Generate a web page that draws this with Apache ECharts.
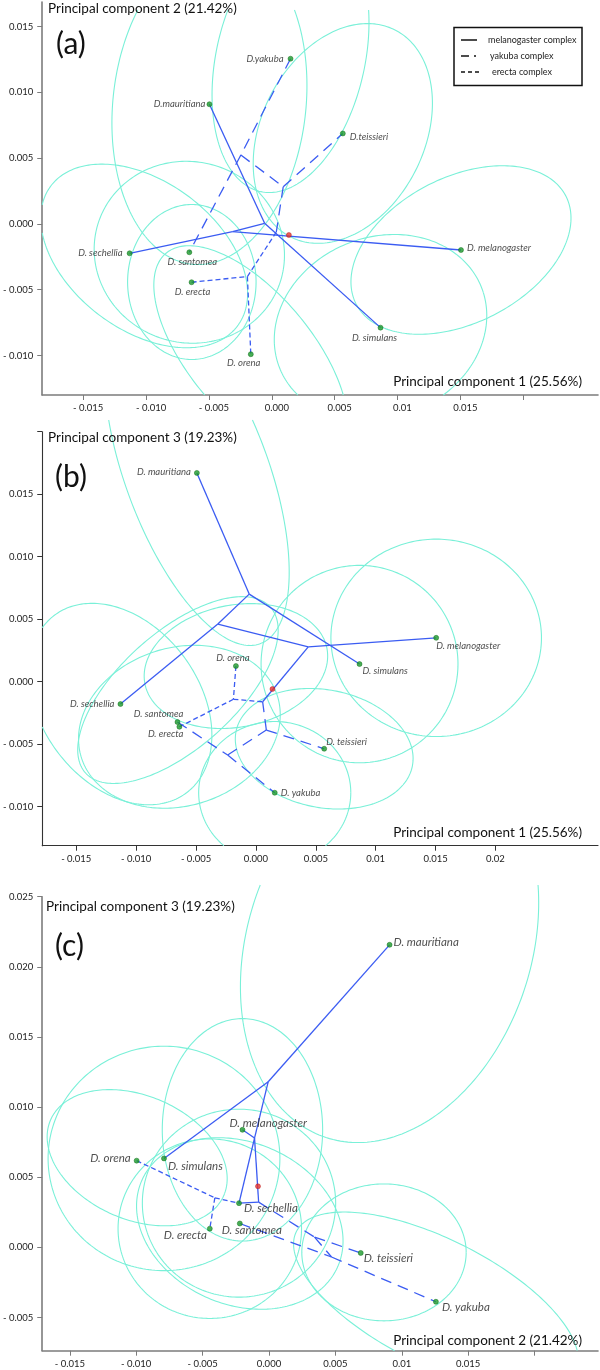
<!DOCTYPE html>
<html><head><meta charset="utf-8">
<script src="https://cdn.jsdelivr.net/npm/echarts@6/dist/echarts.min.js"></script>
<style>html,body{margin:0;padding:0;background:#fff;}#chart{width:600px;height:1370px;}</style>
</head><body><div id="chart"></div>
<script>
// ---------------- DATA ----------------
const speciesNames = ['D. melanogaster','D. simulans','D.mauritiana','D. sechellia','D.yakuba','D.teissieri','D. santomea','D. erecta','D. orena'];
const speciesNamesBC = ['D. melanogaster','D. simulans','D. mauritiana','D. sechellia','D. yakuba','D. teissieri','D. santomea','D. erecta','D. orena'];
const keys = ['mel','sim','mau','sec','yak','tei','san','ere','ore'];

// panel (a): PC1 vs PC2
const pc1_A = [0.01505, 0.00865, -0.00496, -0.01131, 0.00149, 0.00565, -0.00656, -0.00638, -0.00167];
const pc2_A = [-0.00198, -0.00788, 0.0091, -0.00223, 0.01256, 0.00688, -0.00215, -0.00443, -0.0099];
// panel (b): PC1 vs PC3
const pc1_B = [0.01505, 0.00865, -0.00493, -0.01131, 0.00157, 0.0057, -0.00655, -0.00639, -0.00167];
const pc3_B = [0.0035, 0.0014, 0.0167, -0.0018, -0.0089, -0.00538, -0.00324, -0.00362, 0.00124];
// panel (c): PC2 vs PC3
const pc2_C = [-0.002, -0.00791, 0.00908, -0.00226, 0.01257, 0.00691, -0.0022, -0.00446, -0.00997];
const pc3_C = [0.00838, 0.00634, 0.02157, 0.00315, -0.00388, -0.0004, 0.0017, 0.00133, 0.00618];

// red reference point
const rootA = [0.00136, -0.00084];
const rootB = [0.00138, -0.0006];
const rootC = [-0.00083, 0.00435];

// internal tree nodes
const nodesA = {A:[-0.00057,0.00005], P:[-0.00312,-0.00059], Q:[-0.00246,0.00524], R:[0.00091,0.00283], Rt:[0.00036,-0.00061], S:[-0.00194,-0.004]};
const nodesB = {N1:[-0.00056,0.007], N2:[-0.00318,0.0046], N3:[0.00437,0.00278], Rt:[0.00056,-0.00162], S:[-0.00188,-0.00142], Q:[-0.00236,-0.00588], R:[0.00087,-0.00388]};
const nodesC = {N1:[-0.00006,0.01181], N2:[-0.00109,0.00779], N3:[-0.00078,0.00322], S:[-0.00408,0.00353], R:[0.00343,0.00073], Q:[0.00471,-0.00069]};

// tree edges per complex
const edgesA = {
  mel: [['mau','A'],['P','A'],['sec','P'],['A','sim'],['P','mel']],
  yak: [['yak','Q'],['Q','san'],['Q','R'],['R','tei'],['R','Rt']],
  ere: [['ere','S'],['S','ore'],['S','Rt']]
};
const edgesB = {
  mel: [['mau','N1'],['N1','N2'],['N2','sec'],['N1','sim'],['N2','N3'],['N3','mel'],['N3','Rt']],
  yak: [['san','Q'],['Q','yak'],['Q','R'],['R','tei'],['R','Rt']],
  ere: [['ore','S'],['S','Rt'],['S','ere']]
};
const edgesC = {
  mel: [['mau','N1'],['N1','sim'],['N1','N2'],['N2','mel'],['N2','sec'],['N2','N3'],['sec','N3']],
  yak: [['N3','R'],['R','tei'],['R','Q'],['san','Q'],['Q','yak']],
  ere: [['ore','S'],['S','ere'],['S','sec']]
};

// confidence ellipses: [centre x, centre y, semi-axis a, semi-axis b, angle deg]
const ellipsesA = [
  [0.01505,-0.00198,0.0093,0.00558,25],
  [0.00865,-0.00788,0.0086,0.0069,18],
  [0.00565,0.00688,0.0089,0.00643,60],
  [0.00149,0.01256,0.01038,0.00589,76],
  [-0.00496,0.0091,0.01224,0.00767,83],
  [-0.00167,-0.0099,0.01022,0.0048,-48],
  [-0.00636,-0.00441,0.00589,0.00511,90],
  [-0.00656,-0.00215,0.00759,0.00689,-10],
  [-0.01015,-0.00243,0.00914,0.00573,-34]
];
const ellipsesB = [
  [-0.00493,0.0167,0.01466,0.00594,-68.5],
  [0.01505,0.0035,0.00879,0.0079,0],
  [0.00865,0.0014,0.00822,0.0079,0],
  [0.0057,-0.00538,0.00749,0.00472,-10],
  [0.00157,-0.0089,0.00635,0.0057,0],
  [-0.01131,-0.0018,0.009,0.0065,-50],
  [-0.00651,-0.00068,0.01018,0.00472,40],
  [-0.00639,-0.00362,0.00855,0.00635,15],
  [-0.00167,0.00124,0.00773,0.00489,10]
];
const ellipsesC = [
  [0.00908,0.02157,0.01456,0.01063,68.6],
  [-0.00993,0.00639,0.00706,0.00444,-21],
  [-0.00791,0.00634,0.00873,0.008,0],
  [-0.002,0.00838,0.00793,0.00604,90],
  [-0.00226,0.00315,0.00728,0.0067,0],
  [-0.0022,0.0017,0.008,0.00582,-20],
  [-0.00446,0.00133,0.00691,0.0064,0],
  [0.00866,-0.00036,0.00619,0.00488,0],
  [0.01257,-0.00388,0.01164,0.00451,-25]
];

// axis ticks and labels
const xTicksA = [-0.015,-0.01,-0.005,0,0.005,0.01,0.015,0.02];
const xLabelsA = ['- 0.015','- 0.010','- 0.005','0.000','0.005','0.01','0.015'];
const yTicksA = [-0.01,-0.005,0,0.005,0.01,0.015];
const yLabelsA = ['- 0.010','- 0.005','0.000','0.005','0.010','0.015'];
const xTicksB = [-0.015,-0.01,-0.005,0,0.005,0.01,0.015,0.02];
const xLabelsB = ['- 0.015','- 0.010','- 0.005','0.000','0.005','0.01','0.015','0.02'];
const yTicksB = [-0.01,-0.005,0,0.005,0.01,0.015,0.02];
const yLabelsB = ['- 0.010','- 0.005','0.000','0.005','0.010','0.015'];
const xTicksC = [-0.015,-0.01,-0.005,0,0.005,0.01,0.015,0.02];
const xLabelsC = ['- 0.015','- 0.010','- 0.005','0.000','0.005','0.01','0.015'];
const yTicksC = [-0.005,0,0.005,0.01,0.015,0.02,0.025];
const yLabelsC = ['- 0.005','0.000','0.005','0.010','0.015','0.020','0.025'];

const axisTitles = {
  a: ['Principal component 2 (21.42%)','Principal component 1 (25.56%)'],
  b: ['Principal component 3 (19.23%)','Principal component 1 (25.56%)'],
  c: ['Principal component 3 (19.23%)','Principal component 2 (21.42%)']
};
const legendItems = ['melanogaster complex','yakuba complex','erecta complex'];

// ---------------- LAYOUT / STYLE ----------------
const FONT = 'Lato, "Open Sans", sans-serif';
const ELL_COLOR = '#7af0d8';
const LINE_COLOR = '#3b5cf2';
const DASH = {mel:'solid', yak:[11,7], ere:[5,3]};

// label placement per species: [align, verticalAlign, dx, dy]
const labelPlaceA = {
  mel:['left','middle',6,-2], sim:['center','top',-6,5], mau:['right','middle',-4,0],
  sec:['right','middle',-7,0], yak:['right','middle',-7,0], tei:['left','middle',7,3],
  san:['center','top',3,5], ere:['center','top',1,5], ore:['center','top',-7,4]
};
const labelPlaceB = {
  mel:['left','top',0,3], sim:['left','top',3,2], mau:['right','middle',-6,-1],
  sec:['right','middle',-6,0], yak:['left','middle',6,0], tei:['left','bottom',2,-2],
  san:['right','bottom',6,-3], ere:['right','top',4,2], ore:['center','bottom',-3,-3]
};
const labelPlaceC = {
  mel:['left','bottom',-13,-1], sim:['left','top',4,2], mau:['left','middle',4,-3],
  sec:['left','top',5,-1], yak:['left','top',6,0], tei:['left','top',3,-1],
  san:['center','top',12,1], ere:['right','top',-3,1], ore:['right','middle',-6,-2]
};

const panels = [
  {grid:{left:38.3, top:2, width:559.7, height:393}, x:[-0.01826,0.02595], y:[-0.013,0.01687],
   xs:pc1_A, ys:pc2_A, root:rootA, nodes:nodesA, edges:edgesA, ell:ellipsesA,
   xt:xTicksA, xl:xLabelsA, yt:yTicksA, yl:yLabelsA, names:speciesNames, place:labelPlaceA, fs:9.5, clipTop:-8,
   axisColor:'#7c7c7c', axisWidth:1.6, xPad:[0,0,0,10]},
  {grid:{left:38.3, top:431.7, width:559.7, height:414}, x:[-0.01784,0.02856], y:[-0.01314,0.02],
   xs:pc1_B, ys:pc3_B, root:rootB, nodes:nodesB, edges:edgesB, ell:ellipsesB,
   xt:xTicksB, xl:xLabelsB, yt:yTicksB, yl:yLabelsB, names:speciesNamesBC, place:labelPlaceB, fs:9.5, clipTop:11.7,
   axisColor:'#333', axisWidth:1.1, xPad:[0,0,0,0]},
  {grid:{left:37.1, top:896.7, width:560.9, height:454}, x:[-0.01708,0.02478], y:[-0.00737,0.025],
   xs:pc2_C, ys:pc3_C, root:rootC, nodes:nodesC, edges:edgesC, ell:ellipsesC,
   xt:xTicksC, xl:xLabelsC, yt:yTicksC, yl:yLabelsC, names:speciesNamesBC, place:labelPlaceC, fs:11.5, clipTop:11.7,
   axisColor:'#7c7c7c', axisWidth:1.6, xPad:[0,0,0,0]}
];

function labelFor(v, ticks, labels){
  for (let i=0;i<ticks.length;i++) if (Math.abs(v-ticks[i])<1e-9) return labels[i] || '';
  return '';
}

function clipSeg(a,b,r){
  let t0=0,t1=1; const dx=b[0]-a[0], dy=b[1]-a[1];
  const p=[-dx,dx,-dy,dy], q=[a[0]-r.x0, r.x1-a[0], a[1]-r.y0, r.y1-a[1]];
  for (let i=0;i<4;i++){
    if (p[i]===0){ if (q[i]<0) return null; }
    else { const t=q[i]/p[i];
      if (p[i]<0){ if (t>t1) return null; if (t>t0) t0=t; }
      else { if (t<t0) return null; if (t<t1) t1=t; } }
  }
  return {a:[a[0]+t0*dx,a[1]+t0*dy], b:[a[0]+t1*dx,a[1]+t1*dy], sc:t0>0, ec:t1<1};
}
function clipPolyline(pts, r){
  const runs=[]; let cur=null, prevEndClipped=true;
  for (let i=0;i<pts.length-1;i++){
    const s=clipSeg(pts[i],pts[i+1],r);
    if (!s){ cur=null; prevEndClipped=true; continue; }
    if (cur && !s.sc && !prevEndClipped) cur.push(s.b);
    else { cur=[s.a,s.b]; runs.push(cur); }
    prevEndClipped=s.ec;
  }
  return runs;
}

function ellipseRender(clipTop){
  return function(params, api){
    const cx=api.value(0), cy=api.value(1), a=api.value(2), b=api.value(3), ang=api.value(4)*Math.PI/180;
    const pts=[];
    const N=240;
    for (let i=0;i<=N;i++){
      const t=i/N*2*Math.PI;
      const dx=a*Math.cos(t)*Math.cos(ang)-b*Math.sin(t)*Math.sin(ang);
      const dy=a*Math.cos(t)*Math.sin(ang)+b*Math.sin(t)*Math.cos(ang);
      pts.push(api.coord([cx+dx, cy+dy]));
    }
    const cs=params.coordSys;
    const r={x0:cs.x, x1:cs.x+cs.width, y0:cs.y-clipTop, y1:cs.y+cs.height};
    const runs=clipPolyline(pts, r);
    return {type:'group', children: runs.map(run=>({type:'polyline', shape:{points:run}, style:{stroke:ELL_COLOR, fill:'none', lineWidth:1.1}}))};
  };
}

const option = {animation:false, backgroundColor:'#fff', grid:[], xAxis:[], yAxis:[], series:[], graphic:[]};

panels.forEach((P, i) => {
  option.grid.push(Object.assign({containLabel:false}, P.grid));
  option.xAxis.push({type:'value', gridIndex:i, min:P.x[0], max:P.x[1], splitLine:{show:false},
    axisLine:{show:true, onZero:false, lineStyle:{color:P.axisColor, width:P.axisWidth}},
    axisTick:{show:true, customValues:P.xt, length:5, lineStyle:{color:P.axisColor, width:1}},
    axisLabel:{show:true, customValues:P.xt.slice(0,P.xl.length), formatter:v=>labelFor(v,P.xt,P.xl), fontSize:9.5, color:'#222', fontFamily:FONT, margin:8, padding:P.xPad}});
  option.yAxis.push({type:'value', gridIndex:i, min:P.y[0], max:P.y[1], splitLine:{show:false},
    axisLine:{show:true, onZero:false, lineStyle:{color:P.axisColor, width:P.axisWidth}},
    axisTick:{show:true, customValues:P.yt, length:5, lineStyle:{color:P.axisColor, width:1}},
    axisLabel:{show:true, customValues:P.yt.slice(0,P.yl.length), formatter:v=>labelFor(v,P.yt,P.yl), fontSize:9.5, color:'#222', fontFamily:FONT, margin:9}});

  // ellipses
  option.series.push({type:'custom', xAxisIndex:i, yAxisIndex:i, coordinateSystem:'cartesian2d', clip:false, silent:true, z:1,
    renderItem: ellipseRender(P.clipTop), data:P.ell, encode:{x:0, y:1}});

  // tree edges
  const pos = (k) => { const j=keys.indexOf(k); return j>=0 ? [P.xs[j], P.ys[j]] : P.nodes[k]; };
  ['mel','yak','ere'].forEach(cx => {
    option.series.push({type:'lines', coordinateSystem:'cartesian2d', xAxisIndex:i, yAxisIndex:i, polyline:false, silent:true, z:3,
      data: P.edges[cx].map(e=>({coords:[pos(e[0]), pos(e[1])]})),
      lineStyle:{color:LINE_COLOR, width:1.3, opacity:1, type:DASH[cx], curveness:0}});
  });

  // species points and labels
  option.series.push({type:'scatter', xAxisIndex:i, yAxisIndex:i, symbol:'circle', symbolSize:5, z:5, silent:true,
    itemStyle:{color:'#1c9a2a', borderColor:'#0d6e1a', borderWidth:0.6},
    data: keys.map((k,j)=>{ const pl=P.place[k]; return {value:[P.xs[j],P.ys[j]],
      label:{show:true, position:'inside', formatter:P.names[j], align:pl[0], verticalAlign:pl[1], offset:[pl[2],pl[3]],
        fontSize:P.fs, fontStyle:'italic', fontFamily:FONT, color:'#222'}}; })});
  // red reference point
  option.series.push({type:'scatter', xAxisIndex:i, yAxisIndex:i, symbol:'circle', symbolSize:5, z:6, silent:true,
    itemStyle:{color:'#e8322c', borderColor:'#b01010', borderWidth:0.5}, data:[P.root]});
});

// axis titles, panel letters and legend (layout)
const titlePos = [
  {top:[48,9], bottom:[582,382], letter:[56,44], txt:'(a)', key:'a'},
  {top:[48,438], bottom:[582,833], letter:[55,477], txt:'(b)', key:'b'},
  {top:[46,907], bottom:[582,1341], letter:[55,946], txt:'(c)', key:'c'}
];
titlePos.forEach(t => {
  option.graphic.push({type:'text', x:t.top[0], y:t.top[1], z:20, style:{text:axisTitles[t.key][0], font:'13.5px '+FONT, fill:'#111', textAlign:'left', textVerticalAlign:'middle', align:'left', verticalAlign:'middle'}});
  option.graphic.push({type:'text', x:t.bottom[0], y:t.bottom[1], z:20, style:{text:axisTitles[t.key][1], font:'13.5px '+FONT, fill:'#111', textAlign:'right', textVerticalAlign:'middle', align:'right', verticalAlign:'middle'}});
  option.graphic.push({type:'text', x:t.letter[0], y:t.letter[1], z:20, style:{text:t.txt, font:'30px '+FONT, fill:'#111', textAlign:'left', textVerticalAlign:'middle', align:'left', verticalAlign:'middle'}});
});
// legend box
option.graphic.push({type:'rect', z:30, shape:{x:454, y:27.5, width:128, height:58}, style:{fill:'#fff', stroke:'#111', lineWidth:1.5}});
option.graphic.push({type:'line', z:31, shape:{x1:461, y1:40, x2:477, y2:40}, style:{stroke:'#111', lineWidth:1.5}});
option.graphic.push({type:'line', z:31, shape:{x1:461, y1:56, x2:469, y2:56}, style:{stroke:'#111', lineWidth:1.5}});
option.graphic.push({type:'line', z:31, shape:{x1:474, y1:56, x2:476, y2:56}, style:{stroke:'#111', lineWidth:1.5}});
option.graphic.push({type:'line', z:31, shape:{x1:461, y1:72, x2:479, y2:72}, style:{stroke:'#111', lineWidth:1.5, lineDash:[4,3]}});
[[488,40],[490,56],[492,72]].forEach((p,k)=>{
  option.graphic.push({type:'text', z:31, x:p[0], y:p[1], style:{text:legendItems[k], font:'9px '+FONT, fill:'#222', textAlign:'left', textVerticalAlign:'middle', align:'left', verticalAlign:'middle'}});
});

const chart = echarts.init(document.getElementById('chart'), null, {renderer:'canvas', width:600, height:1370});
chart.setOption(option);
</script></body></html>
